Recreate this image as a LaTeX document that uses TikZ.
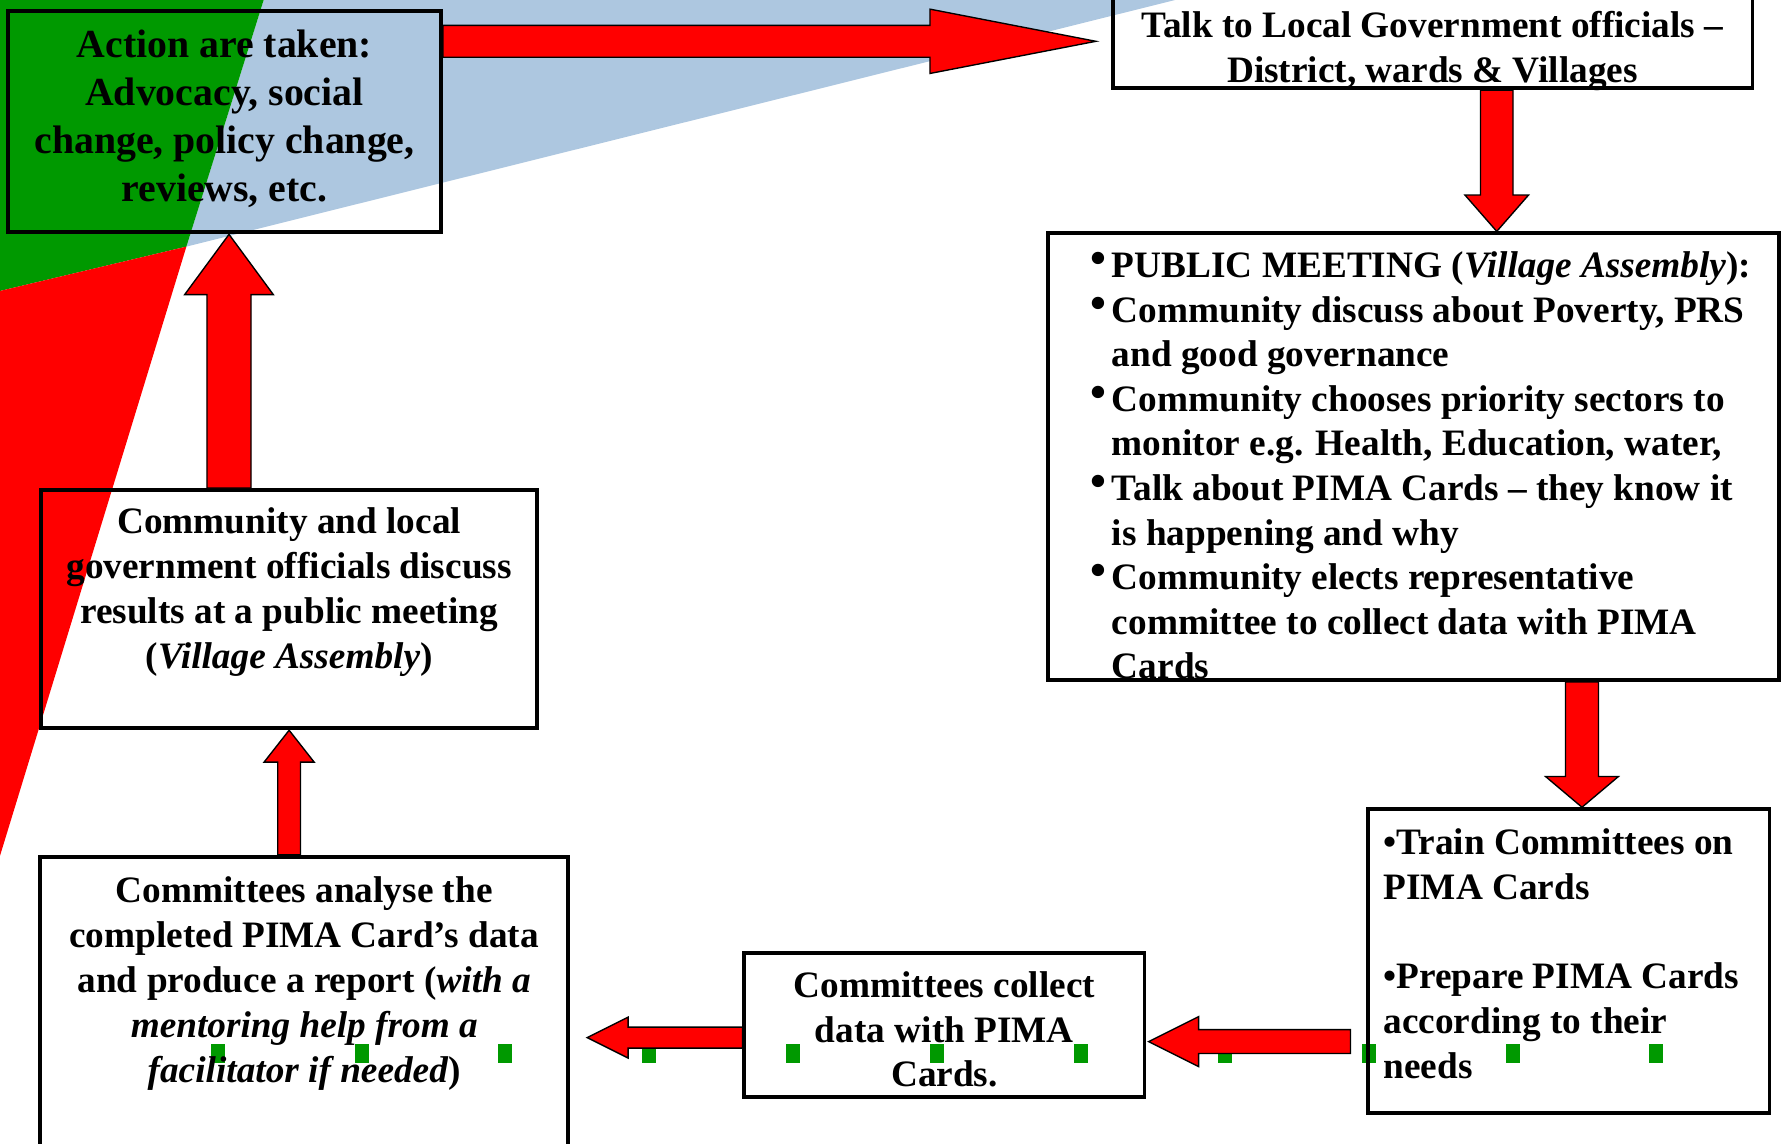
\documentclass[tikz,border=0pt]{standalone}
\usepackage{fontspec}
\setmainfont{Liberation Serif}
\usetikzlibrary{calc}
\definecolor{pieblue}{RGB}{173,199,224}
\definecolor{piegreen}{RGB}{0,153,0}
\definecolor{piered}{RGB}{255,0,0}
\definecolor{sqgreen}{RGB}{0,153,0}
\tikzset{
  box/.style={draw=black, line width=1.7pt, rectangle, inner sep=0pt},
  btext/.style={inner sep=0pt, font=\bfseries\fontsize{16.4}{19.6}\selectfont},
  barrow/.style={fill=red, draw=black, line width=0.6pt, line join=miter},
  sq/.style={fill=sqgreen, draw=none},
}
\newcommand{\tstrut}{\rule{0pt}{14pt}}
\newcommand{\pbul}{\llap{\raisebox{1.7pt}{\fontsize{20}{20}\selectfont•}\hspace{2.5pt}}}
\newcommand{\blockarrow}[5]{%
  \coordinate (ba-h) at ($(#2)!#5!(#1)$);
  \draw[barrow] ($(#1)!#3!90:(#2)$) -- ($(ba-h)!#3!90:(#2)$) -- ($(ba-h)!#4!90:(#2)$) -- (#2)
     -- ($(ba-h)!#4!-90:(#2)$) -- ($(ba-h)!#3!-90:(#2)$) -- ($(#1)!#3!-90:(#2)$) -- cycle;
}
\begin{document}
\begin{tikzpicture}[x=0.5pt, y=-0.5pt]
\useasboundingbox (0,0) rectangle (1568,1006);
% pie background
\coordinate (pc) at (164,217);
\fill[pieblue] (pc) -- (1034,0) -- (232,0) -- cycle;
\fill[piegreen] (pc) -- (232,0) -- (0,0) -- (0,256) -- cycle;
\fill[piered] (pc) -- (0,256) -- (0,753) -- cycle;
% green handles
\foreach \sx in {191.5,318.1,444.7,571.3,697.9,824.5,951.1,1077.7,1204.3,1330.9,1457.5}
  \fill[sq] (\sx-6.15,918.6) rectangle (\sx+6.15,935);
% boxes
\node[box, minimum width=190.5pt, minimum height=97.5pt] (act) at (197.5,107) {};
\node[box, minimum width=281.5pt, minimum height=41.35pt] (talk) at (1260.5,36.35) {};
\node[box, minimum width=321.5pt, minimum height=196.5pt] (pub) at (1244,401.8) {};
\node[box, minimum width=176.5pt, minimum height=133.5pt] (train) at (1380.5,845.5) {};
\node[box, minimum width=176pt, minimum height=63.35pt] (collect) at (831,901.7) {};
\node[box, minimum width=232.3pt, minimum height=130.6pt] (ana) at (267.7,884.4) {};
\node[box, minimum width=218.4pt, minimum height=104.85pt] (com) at (254.4,536) {};
% texts
\node[btext, font=\bfseries\fontsize{17.5}{21.1}\selectfont, anchor=north, align=center] (actT) at (197.5,22)
  {\tstrut Action are taken:\\Advocacy, social\\change, policy change,\\reviews, etc.};
\node[btext, font=\bfseries\fontsize{16.4}{19.8}\selectfont, anchor=north, align=center] (talkT) at (1260.5,5)
  {\tstrut Talk to Local Government officials –\\District, wards \& Villages};
\node[btext, font=\bfseries\fontsize{16.4}{19.6}\selectfont, anchor=north west, align=left] (pubT) at (978,216)
  {\tstrut\pbul PUBLIC MEETING (\textit{Village Assembly}):\\
   \pbul Community discuss about Poverty, PRS\\
   and good governance\\
   \pbul Community chooses priority sectors to\\
   monitor e.g. Health, Education, water,\\
   \pbul Talk about PIMA Cards – they know it\\
   is happening and why\\
   \pbul Community elects representative\\
   committee to collect data with PIMA\\
   Cards};
\node[btext, font=\bfseries\fontsize{16.4}{19.8}\selectfont, anchor=north west, align=left] (trainT) at (1217,723.4)
  {\tstrut•Train Committees on\\PIMA Cards\\[19.5pt]•Prepare PIMA Cards\\according to their\\needs};
\node[btext, font=\bfseries\fontsize{16.4}{19.6}\selectfont, anchor=north, align=center] (collectT) at (831,849.5)
  {\tstrut Committees collect\\data with PIMA\\Cards.};
\node[btext, font=\bfseries\fontsize{16.4}{19.75}\selectfont, anchor=north, align=center] (anaT) at (267.7,766)
  {\tstrut Committees analyse the\\completed PIMA Card’s data\\and produce a report (\textit{with a}\\\textit{mentoring help from a}\\\textit{facilitator if needed})};
\node[btext, font=\bfseries\fontsize{16.4}{19.75}\selectfont, anchor=north, align=center] (comT) at (254.4,441.3)
  {\tstrut Community and local\\government officials discuss\\results at a public meeting\\(\textit{Village Assembly})};
% arrows
\coordinate (aS) at (act.east |- talk.west);
\coordinate (aE) at ($(talk.west)+(-13,0)$);
\blockarrow{aS}{aE}{7pt}{14.15pt}{73pt}
\coordinate (bS) at ($(talk.south)+(56.5,0)$);
\coordinate (bE) at (bS |- pub.north);
\blockarrow{bS}{bE}{7.15pt}{14pt}{16pt}
\coordinate (cS) at ($(pub.south)+(148,0)$);
\coordinate (cE) at (cS |- train.north);
\blockarrow{cS}{cE}{7.25pt}{16pt}{13.5pt}
\coordinate (dS) at ($(train.west)+(-14,71)$);
\coordinate (dE) at ($(collect.east |- dS)+(2,0)$);
\blockarrow{dS}{dE}{5.25pt}{11pt}{22pt}
\coordinate (eS) at ($(collect.west)+(0,11.3)$);
\coordinate (eE) at ($(ana.east |- eS)+(15,0)$);
\blockarrow{eS}{eE}{4.6pt}{9pt}{18pt}
\coordinate (fS) at (com.south |- ana.north);
\coordinate (fE) at (com.south);
\blockarrow{fS}{fE}{5pt}{11pt}{14pt}
\coordinate (gS) at ($(act.south |- com.north)+(4,0)$);
\coordinate (gE) at ($(act.south)+(4,0)$);
\blockarrow{gS}{gE}{9.7pt}{19.5pt}{26.5pt}
\end{tikzpicture}
\end{document}
